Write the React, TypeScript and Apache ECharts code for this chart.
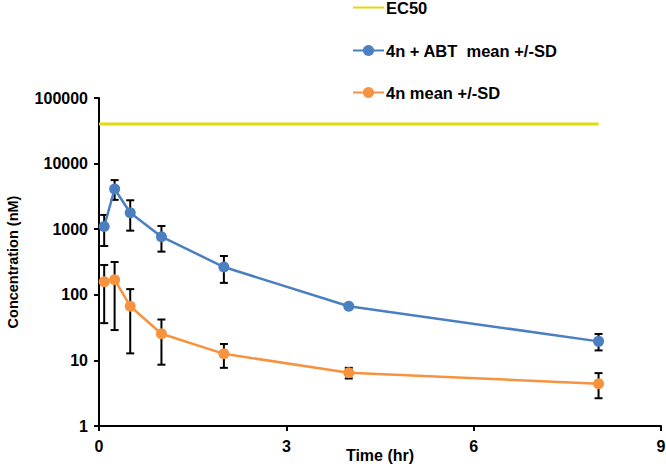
import React, { useEffect, useRef } from "react";
import * as echarts from "echarts";

const times = [0.083, 0.25, 0.5, 1, 2, 4, 8];
const abtMean = [1100, 4100, 1780, 770, 265, 67, 19.5];
const abtHigh = [1650, 5600, 2760, 1120, 390, 72, 25.3];
const abtLow = [555, 2800, 950, 455, 152, 62, 14.2];
const nMean = [158, 170, 67, 25.5, 12.6, 6.5, 4.4];
const nHigh = [285, 316, 122, 42, 17.8, 7.7, 6.4];
const nLow = [37, 29, 12.8, 8.6, 7.7, 5.3, 2.65];
const ec50Times = [0, 8];
const ec50Value = 40000;
const xTicks = [0, 3, 6, 9];
const legendNames = ["EC50", "4n + ABT  mean +/-SD", "4n mean +/-SD"];

const BLUE = "#4a7fc1";
const ORANGE = "#f7923e";
const YELLOW = "#e2db0c";

function errorSeries(name: string, high: number[], low: number[]) {
  const data = times.map((t, i) => [t, low[i], high[i]]);
  return {
    type: "custom",
    name,
    z: 3,
    silent: true,
    data,
    renderItem: (params: any, api: any) => {
      const x = api.value(0);
      const lo = api.coord([x, api.value(1)]);
      const hi = api.coord([x, api.value(2)]);
      const cap = 4;
      const style = { stroke: "#000", lineWidth: 2 };
      return {
        type: "group",
        children: [
          { type: "line", shape: { x1: lo[0], y1: lo[1], x2: hi[0], y2: hi[1] }, style },
          { type: "line", shape: { x1: hi[0] - cap, y1: hi[1], x2: hi[0] + cap, y2: hi[1] }, style },
          { type: "line", shape: { x1: lo[0] - cap, y1: lo[1], x2: lo[0] + cap, y2: lo[1] }, style },
        ],
      };
    },
  };
}

export default function App() {
  const ref = useRef<HTMLDivElement>(null);
  useEffect(() => {
    if (!ref.current) return;
    const chart = echarts.init(ref.current, null, { renderer: "svg" });
    const font = "'Liberation Sans', Arial, sans-serif";
    const legendTops = [-1, 42, 84];
    chart.setOption({
      animation: false,
      backgroundColor: "#fff",
      textStyle: { fontFamily: font },
      grid: { left: 99, right: 5, top: 98, bottom: 49, containLabel: false, outerBoundsMode: "none" },
      legend: legendNames.map((n, i) => ({
        orient: "vertical",
        left: 352,
        top: legendTops[i],
        padding: 0,
        itemWidth: 31,
        itemHeight: 14,
        selectedMode: false,
        data: [i === 0 ? { name: n, itemStyle: { opacity: 0 } } : n],
        textStyle: {
          fontFamily: font,
          fontSize: 16.5,
          lineHeight: 14,
          fontWeight: "bold",
          color: "#000",
          padding: [0, 0, 0, -3],
        },
      })),
      xAxis: {
        type: "value",
        min: 0,
        max: 9,
        interval: 3,
        name: "Time (hr)",
        nameLocation: "middle",
        nameGap: 21,
        nameMoveOverlap: false,
        nameTextStyle: { fontFamily: font, fontSize: 16, fontWeight: "bold", color: "#000" },
        axisLine: { lineStyle: { color: "#000", width: 2 } },
        axisTick: { show: true, length: 5, lineStyle: { color: "#000", width: 2 } },
        axisLabel: {
          fontFamily: font,
          fontSize: 16,
          fontWeight: "bold",
          color: "#000",
          margin: 12,
          formatter: (v: number) => (xTicks.includes(v) ? String(v) : ""),
        },
        splitLine: { show: false },
      },
      yAxis: {
        type: "log",
        logBase: 10,
        min: 1,
        max: 100000,
        name: "Concentration (nM)",
        nameLocation: "middle",
        nameGap: 79,
        nameMoveOverlap: false,
        nameTextStyle: { fontFamily: font, fontSize: 14.5, fontWeight: "bold", color: "#000" },
        axisLine: { show: true, lineStyle: { color: "#000", width: 2 } },
        axisTick: { show: true, inside: false, length: 5, lineStyle: { color: "#000", width: 2 } },
        axisLabel: {
          fontFamily: font,
          fontSize: 16,
          fontWeight: "bold",
          color: "#000",
          margin: 11,
          formatter: (v: number) => String(Math.round(v)),
        },
        splitLine: { show: false },
      },
      series: [
        {
          type: "line",
          name: "EC50",
          data: ec50Times.map((t) => [t, ec50Value]),
          symbol: "none",
          lineStyle: { color: YELLOW, width: 3 },
          itemStyle: { color: YELLOW },
          z: 2,
        },
        errorSeries("abtErr", abtHigh, abtLow),
        errorSeries("nErr", nHigh, nLow),
        {
          type: "line",
          name: "4n + ABT  mean +/-SD",
          data: times.map((t, i) => [t, abtMean[i]]),
          symbol: "circle",
          symbolSize: 11,
          showAllSymbol: true,
          lineStyle: { color: BLUE, width: 2.5 },
          itemStyle: { color: BLUE },
          z: 4,
        },
        {
          type: "line",
          name: "4n mean +/-SD",
          data: times.map((t, i) => [t, nMean[i]]),
          symbol: "circle",
          symbolSize: 11,
          showAllSymbol: true,
          lineStyle: { color: ORANGE, width: 2.5 },
          itemStyle: { color: ORANGE },
          z: 4,
        },
      ],
    });
    return () => chart.dispose();
  }, []);
  return <div ref={ref} style={{ width: 666, height: 475, position: "absolute", left: 0, top: 0 }} />;
}
